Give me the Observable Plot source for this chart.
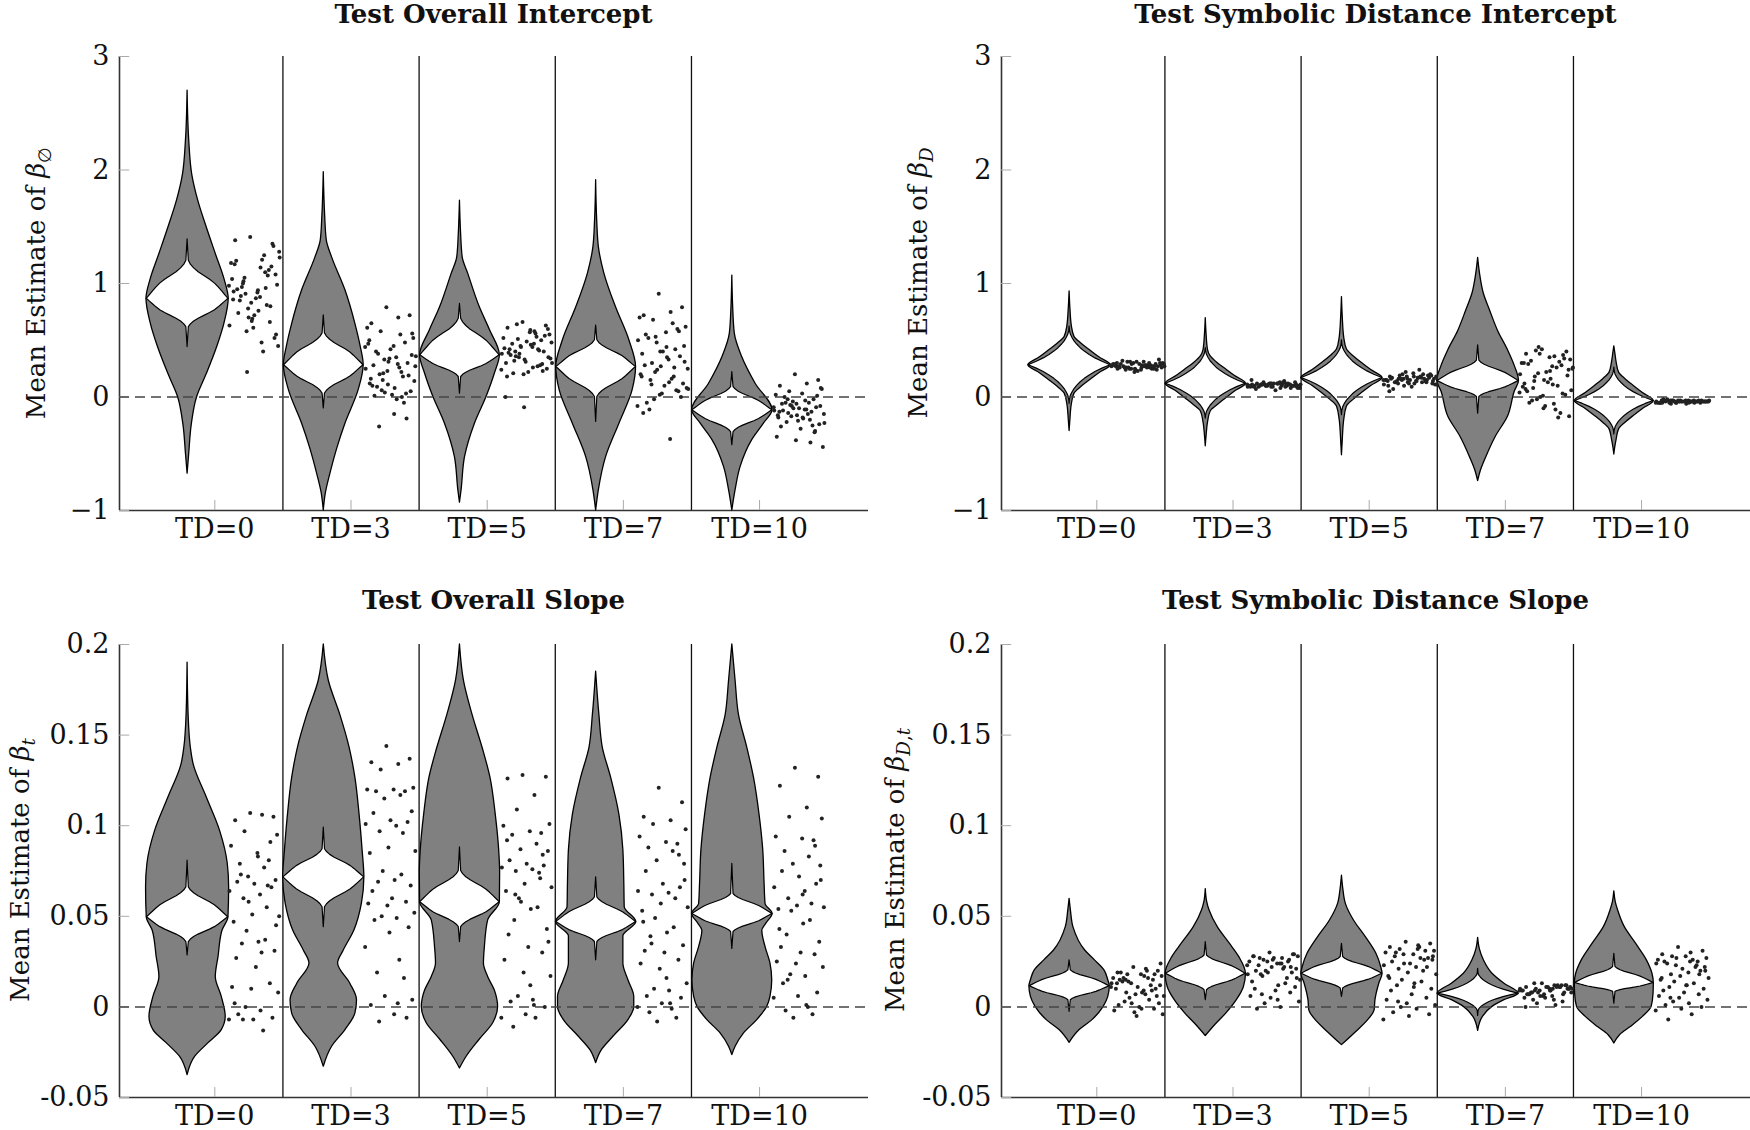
<!DOCTYPE html>
<html><head><meta charset="utf-8">
<script src="https://cdn.jsdelivr.net/npm/d3@7"></script>
<script src="https://cdn.jsdelivr.net/npm/@observablehq/plot@0.6"></script>
<style>
html,body{margin:0;padding:0;background:#fff;}
#root{position:relative;width:1750px;height:1130px;overflow:hidden;background:#fff;}
.panel{position:absolute;}
.panel svg{overflow:visible;max-width:none !important;}
.title{position:absolute;transform:translate(-50%,-50%);font:bold 26px "DejaVu Serif";white-space:nowrap;color:#111;}
.ylab{position:absolute;transform:translate(-50%,-50%) rotate(-90deg);font:26px "DejaVu Serif";white-space:nowrap;color:#111;}
.ylab sub{font-size:70%;}
</style></head><body><div id="root"></div>
<script>
// ---------- categories & ticks ----------
const tdLabels = ["TD=0", "TD=3", "TD=5", "TD=7", "TD=10"];
const groupPos = [1, 2, 3, 4, 5];
const separators = [1.5, 2.5, 3.5, 4.5];
const interceptTicks = [-1, 0, 1, 2, 3];
const interceptTickLabels = ["\u22121", "0", "1", "2", "3"];
const slopeTicks = [-0.05, 0, 0.05, 0.1, 0.15, 0.2];
const slopeTickLabels = ["-0.05", "0", "0.05", "0.1", "0.15", "0.2"];
const titles = ["Test Overall Intercept", "Test Symbolic Distance Intercept", "Test Overall Slope", "Test Symbolic Distance Slope"];
const yLabelText = "Mean Estimate of ";
const ySubscripts = ["\u2205", "D", "t", "D,t"];

// ---------- violin outlines: [y, half-width] ----------
const p1Outer = [
  [[2.70,0],[2.26,0.012],[1.96,0.034],[1.73,0.078],[1.50,0.139],[1.26,0.207],[1.03,0.273],[0.865,0.302],[0.645,0.27],[0.45,0.22],[0.2,0.14],[0,0.07],[-0.25,0.03],[-0.5,0.012],[-0.675,0]],
  [[1.98,0],[1.6,0.01],[1.38,0.022],[1.23,0.061],[0.94,0.159],[0.645,0.232],[0.45,0.27],[0.28,0.293],[0.06,0.256],[-0.235,0.159],[-0.45,0.1],[-0.675,0.049],[-0.85,0.015],[-1.0,0]],
  [[1.73,0],[1.45,0.008],[1.23,0.02],[1.085,0.061],[0.79,0.146],[0.59,0.22],[0.367,0.293],[0.205,0.256],[0,0.195],[-0.235,0.11],[-0.53,0.037],[-0.82,0.012],[-0.93,0]],
  [[1.91,0],[1.55,0.008],[1.32,0.02],[1.085,0.061],[0.79,0.146],[0.5,0.244],[0.264,0.293],[0.06,0.268],[-0.235,0.171],[-0.53,0.073],[-0.82,0.02],[-1.0,0]],
  [[1.07,0],[0.8,0.006],[0.56,0.018],[0.35,0.073],[0.117,0.171],[-0.117,0.295],[-0.235,0.232],[-0.38,0.146],[-0.616,0.061],[-0.82,0.024],[-1.0,0]]
];
const p2Outer = [
  [[0.93,0],[0.78,0.006],[0.62,0.017],[0.53,0.036],[0.47,0.088],[0.41,0.152],[0.35,0.218],[0.28,0.303],[0.21,0.218],[0.15,0.152],[0.09,0.088],[0.03,0.036],[-0.06,0.017],[-0.2,0.006],[-0.30,0]],
  [[0.695,0],[0.55,0.006],[0.41,0.017],[0.36,0.035],[0.30,0.086],[0.245,0.148],[0.187,0.212],[0.117,0.295],[0.047,0.212],[-0.013,0.148],[-0.073,0.086],[-0.13,0.035],[-0.22,0.017],[-0.34,0.006],[-0.434,0]],
  [[0.88,0],[0.70,0.006],[0.52,0.017],[0.42,0.036],[0.357,0.087],[0.297,0.149],[0.237,0.215],[0.167,0.298],[0.097,0.215],[0.037,0.149],[-0.023,0.087],[-0.085,0.036],[-0.2,0.017],[-0.38,0.006],[-0.513,0]],
  [[1.226,0],[1.085,0.014],[0.91,0.042],[0.76,0.088],[0.58,0.147],[0.41,0.22],[0.27,0.27],[0.141,0.3],[0.05,0.27],[-0.176,0.218],[-0.35,0.13],[-0.53,0.06],[-0.65,0.02],[-0.74,0]],
  [[0.446,0],[0.38,0.008],[0.305,0.017],[0.215,0.035],[0.155,0.084],[0.095,0.145],[0.035,0.21],[-0.035,0.29],[-0.105,0.21],[-0.165,0.145],[-0.225,0.084],[-0.285,0.035],[-0.375,0.017],[-0.45,0.006],[-0.507,0]]
];
const p3Outer = [
  [[0.19,0],[0.16,0.008],[0.143,0.024],[0.134,0.044],[0.1155,0.141],[0.097,0.239],[0.079,0.295],[0.066,0.305],[0.0495,0.30],[0.042,0.256],[0.0275,0.227],[0.0165,0.207],[0.0055,0.251],[-0.0055,0.28],[-0.0128,0.251],[-0.02,0.154],[-0.0275,0.056],[-0.0376,0]],
  [[0.2,0],[0.18,0.037],[0.161,0.122],[0.143,0.19],[0.1265,0.232],[0.106,0.263],[0.0865,0.285],[0.0715,0.298],[0.057,0.28],[0.042,0.224],[0.031,0.146],[0.024,0.105],[0.0128,0.195],[0.0037,0.244],[-0.0037,0.232],[-0.0128,0.159],[-0.022,0.061],[-0.033,0]],
  [[0.2,0],[0.18,0.029],[0.161,0.093],[0.143,0.166],[0.1265,0.224],[0.106,0.263],[0.0865,0.288],[0.074,0.295],[0.0578,0.293],[0.0477,0.207],[0.033,0.183],[0.024,0.176],[0.0165,0.207],[0.009,0.256],[0,0.28],[-0.009,0.244],[-0.018,0.146],[-0.0275,0.049],[-0.034,0]],
  [[0.185,0],[0.161,0.024],[0.143,0.049],[0.1265,0.11],[0.106,0.171],[0.0865,0.2],[0.0678,0.207],[0.055,0.21],[0.0468,0.295],[0.039,0.2],[0.024,0.2],[0.0147,0.237],[0.0055,0.28],[0,0.28],[-0.0073,0.237],[-0.0165,0.127],[-0.024,0.041],[-0.031,0]],
  [[0.2,0],[0.18,0.024],[0.161,0.049],[0.143,0.11],[0.1265,0.159],[0.106,0.2],[0.0865,0.227],[0.0678,0.237],[0.0568,0.244],[0.0513,0.296],[0.046,0.25],[0.042,0.22],[0.033,0.244],[0.024,0.28],[0.0147,0.293],[0.0055,0.28],[0,0.256],[-0.0073,0.183],[-0.0147,0.085],[-0.022,0.024],[-0.0266,0]]
];
const p4Outer = [
  [[0.0596,0],[0.053,0.01],[0.044,0.028],[0.031,0.116],[0.0257,0.186],[0.0202,0.256],[0.0147,0.284],[0.0114,0.295],[0.0055,0.284],[0,0.25],[-0.0073,0.168],[-0.0128,0.074],[-0.0198,0]],
  [[0.065,0],[0.058,0.01],[0.0532,0.028],[0.044,0.088],[0.035,0.175],[0.0275,0.246],[0.0183,0.295],[0.011,0.28],[0.0037,0.228],[-0.0037,0.15],[-0.01,0.07],[-0.0161,0]],
  [[0.0724,0],[0.065,0.01],[0.057,0.028],[0.0477,0.088],[0.0385,0.175],[0.0293,0.253],[0.022,0.288],[0.0183,0.298],[0.0128,0.274],[0.0037,0.246],[-0.0018,0.24],[-0.0073,0.193],[-0.0138,0.105],[-0.0211,0]],
  [[0.0381,0],[0.032,0.012],[0.0257,0.042],[0.0183,0.105],[0.0128,0.193],[0.0073,0.298],[0.0037,0.193],[0,0.105],[-0.0055,0.035],[-0.0132,0]],
  [[0.0638,0],[0.058,0.01],[0.0532,0.028],[0.044,0.077],[0.035,0.158],[0.0257,0.239],[0.0183,0.28],[0.0132,0.29],[0.0073,0.288],[0,0.274],[-0.0055,0.21],[-0.011,0.123],[-0.0156,0.042],[-0.0202,0]]
];

// ---------- inner (white) violins: [mode, top of body, top tip, bottom of body, bottom tip, profile] ----------
const p1Inner = [[0.865,1.20,1.39,0.615,0.44,0],[0.28,0.56,0.72,0.03,-0.10,0],[0.367,0.69,0.82,0.176,0.03,0],[0.264,0.50,0.63,0.0,-0.22,0],[-0.117,0.088,0.22,-0.31,-0.425,0]];
const p2Inner = [[0.28,0.58,0.62,-0.02,-0.06,1],[0.117,0.40,0.43,-0.16,-0.19,1],[0.167,0.46,0.50,-0.12,-0.16,1],[0.141,0.32,0.455,0.0,-0.147,0],[-0.035,0.225,0.26,-0.295,-0.33,1]];
const p3Inner = [[0.0495,0.066,0.0807,0.0358,0.0284,0],[0.0715,0.087,0.099,0.055,0.044,0],[0.0578,0.075,0.088,0.044,0.0358,0],[0.0468,0.0605,0.0715,0.0358,0.0257,0],[0.0513,0.0623,0.079,0.0413,0.032,0]];
const p4Inner = [[0.0114,0.0202,0.0257,0.0037,-0.0027,0],[0.0183,0.0284,0.0358,0.0092,0.0037,0],[0.0183,0.0275,0.0348,0.0101,0.0055,0],[0.0073,0.0183,0.021,-0.0022,-0.005,1],[0.0132,0.022,0.0293,0.0083,0.0018,0]];
// white-violin profiles (fraction along body -> fraction of width)
const innerF = [0,.1,.2,.3,.4,.5,.6,.7,.8,.9,1];
const innerProfiles = [
  [1,.92,.84,.76,.67,.55,.41,.27,.16,.08,.03],
  [1,.8,.63,.49,.37,.27,.19,.12,.07,.03,.01]
];

// ---------- individual estimates (dots) ----------
const jitter = [.42,.87,.13,.65,.31,.94,.05,.56,.78,.22,.69,.38,.91,.17,.50,.83,.02,.61,.29,.74,.46,.98,.10,.35,.71,.58,.26,.89,.15,.53,.80,.07,.44,.96,.33,.62,.19,.85,.48,.01,.67,.24,.76,.39,.92,.12,.57,.81,.28,.64,.09,.45,.99,.36,.72,.20,.54,.88,.04,.60];
const p1Dots = [
  [1.41,1.33,1.38,1.21,1.05,0.99,1.18,0.92,1.12,0.85,1.25,0.78,1.08,0.95,0.72,1.15,0.63,0.88,1.02,0.81,0.69,1.28,0.93,0.58,1.10,0.76,0.97,0.52,1.20,0.87,0.66,1.04,0.83,0.45,0.91,1.14,0.74,1.35,0.61,0.98,0.40,0.89,1.07,0.70,0.55,1.17,0.94,0.80,1.00,0.48,0.86,0.67,1.23,0.22,0.96],
  [0.79,0.72,0.65,0.70,0.58,0.52,0.61,0.45,0.48,0.40,0.55,0.33,0.37,0.28,0.42,0.30,0.25,0.35,0.20,0.18,0.31,0.27,0.12,0.15,0.22,0.08,0.38,0.05,0.10,0.02,0.03,0.47,0.23,0.14,0.06,-0.02,0.01,0.19,0.34,0.44,0.26,0.09,-0.05,0.04,0.56,0.16,-0.15,-0.19,-0.26,0.29,0.50,0.11,0.36,0.21,0.00],
  [0.66,0.63,0.61,0.58,0.64,0.55,0.52,0.57,0.50,0.47,0.53,0.45,0.60,0.42,0.49,0.40,0.38,0.44,0.36,0.41,0.33,0.48,0.30,0.35,0.27,0.46,0.32,0.25,0.39,0.22,0.29,0.43,0.20,0.34,0.51,0.26,0.37,0.54,0.31,0.24,0.56,0.21,0.28,0.44,0.35,0.18,0.59,0.23,0.40,0.47,0.00,-0.09,0.30,0.38,0.42],
  [0.91,0.79,0.72,0.75,0.68,0.62,0.70,0.57,0.60,0.52,0.65,0.48,0.45,0.55,0.40,0.36,0.50,0.33,0.30,0.42,0.27,0.25,0.38,0.22,0.18,0.35,0.15,0.12,0.28,0.10,0.05,0.20,0.02,0.08,-0.02,0.13,-0.05,0.00,0.03,-0.08,0.16,-0.11,0.06,0.24,0.31,-0.14,0.44,0.58,0.11,-0.37,0.18,0.40,0.07,0.53,0.26],
  [0.20,0.15,0.10,0.12,0.05,0.07,0.02,0.03,-0.02,0.00,-0.05,-0.04,-0.08,-0.06,-0.10,-0.09,-0.12,-0.11,-0.14,-0.13,-0.16,-0.15,-0.18,-0.17,-0.20,-0.19,-0.22,-0.24,-0.26,-0.28,-0.31,-0.35,-0.38,-0.44,-0.07,-0.03,-0.12,0.01,-0.21,-0.09,-0.15,-0.05,-0.25,-0.10,0.08,-0.13,-0.18,-0.30,-0.02,-0.11,-0.16,-0.06,-0.23,-0.08,-0.40]
];
const p2Dots = [
  [0.30,0.27,0.25,0.28,0.31,0.26,0.29,0.24,0.27,0.32,0.28,0.25,0.30,0.26,0.23,0.29,0.27,0.31,0.26,0.28,0.24,0.29,0.27,0.25,0.30,0.28,0.26,0.33,0.27,0.29,0.25,0.28,0.22,0.30,0.26,0.27,0.29,0.24,0.31,0.28,0.26,0.27,0.25,0.29,0.28,0.30,0.26,0.27,0.24,0.28,0.29,0.25,0.27,0.31,0.26],
  [0.12,0.10,0.09,0.11,0.13,0.08,0.10,0.12,0.11,0.09,0.14,0.10,0.11,0.07,0.12,0.10,0.09,0.13,0.11,0.10,0.12,0.08,0.11,0.10,0.09,0.12,0.11,0.13,0.10,0.06,0.11,0.09,0.12,0.10,0.11,0.08,0.12,0.10,0.09,0.11,0.13,0.10,0.12,0.11,0.09,0.10,0.12,0.08,0.11,0.10,0.15,0.09,0.11,0.10,0.12],
  [0.22,0.20,0.18,0.17,0.19,0.16,0.15,0.21,0.14,0.13,0.18,0.16,0.12,0.17,0.15,0.19,0.11,0.14,0.16,0.20,0.13,0.18,0.10,0.15,0.17,0.12,0.14,0.19,0.16,0.09,0.13,0.15,0.18,0.11,0.16,0.14,0.07,0.17,0.12,0.15,0.24,0.13,0.16,0.10,0.14,0.05,0.18,0.15,0.12,0.17,0.14,0.16,0.11,0.20,0.13],
  [0.42,0.40,0.38,0.36,0.41,0.33,0.30,0.35,0.28,0.32,0.26,0.38,0.24,0.29,0.22,0.34,0.20,0.27,0.18,0.31,0.15,0.25,0.12,0.21,0.10,0.16,0.08,0.19,0.05,0.13,0.03,0.09,0.01,0.06,-0.02,0.11,-0.05,0.02,-0.08,0.04,-0.11,-0.03,-0.14,0.00,-0.17,0.07,0.23,0.37,0.14,-0.06,0.30,-0.10,0.26,0.44,-0.18],
  [-0.03,-0.04,-0.05,-0.04,-0.03,-0.04,-0.05,-0.03,-0.04,-0.02,-0.04,-0.05,-0.04,-0.03,-0.04,-0.05,-0.04,-0.03,-0.06,-0.04,-0.03,-0.04,-0.05,-0.04,-0.03,-0.04,-0.05,-0.04,-0.02,-0.04,-0.03,-0.05,-0.04,-0.04,-0.03,-0.05,-0.04,-0.03,-0.04,-0.05,-0.04,-0.03,-0.04,-0.05,-0.04,-0.03,-0.06,-0.04,-0.03,-0.04,-0.05,-0.04,-0.03,-0.04,-0.05]
];
const p3Dots = [
  [0.107,0.105,0.103,0.106,0.097,0.095,0.089,0.085,0.081,0.079,0.077,0.072,0.070,0.069,0.068,0.066,0.064,0.062,0.060,0.055,0.051,0.050,0.047,0.042,0.037,0.036,0.035,0.031,0.027,0.022,0.013,0.011,0.010,0.008,0.000,-0.002,-0.004,-0.006,-0.007,-0.007,-0.013,0.073,0.067,0.058,0.045,0.002,0.083,0.091,-0.007,0.030],
  [0.144,0.137,0.135,0.134,0.131,0.121,0.120,0.120,0.119,0.119,0.117,0.115,0.108,0.107,0.103,0.102,0.101,0.100,0.097,0.096,0.088,0.086,0.085,0.075,0.073,0.070,0.069,0.067,0.064,0.060,0.058,0.057,0.056,0.052,0.050,0.049,0.048,0.044,0.041,0.033,0.026,0.019,0.016,0.006,0.004,0.001,-0.004,-0.006,-0.008,0.002],
  [0.128,0.127,0.126,0.117,0.109,0.101,0.100,0.097,0.096,0.095,0.090,0.087,0.086,0.081,0.079,0.078,0.077,0.076,0.075,0.074,0.068,0.066,0.064,0.060,0.055,0.054,0.048,0.043,0.040,0.033,0.030,0.026,0.019,0.017,0.006,0.004,0.003,0.000,-0.004,-0.006,-0.006,-0.011,0.071,0.058,0.036,0.092,0.012,0.084,0.062,0.001],
  [0.121,0.113,0.105,0.103,0.101,0.098,0.094,0.091,0.090,0.088,0.086,0.081,0.079,0.075,0.068,0.066,0.064,0.063,0.062,0.060,0.057,0.055,0.053,0.049,0.044,0.041,0.039,0.034,0.031,0.030,0.026,0.024,0.021,0.013,0.010,0.009,0.006,0.005,0.002,0.000,-0.001,-0.003,-0.006,-0.008,0.070,0.047,0.016,0.084,0.035,0.002],
  [0.132,0.127,0.122,0.110,0.105,0.104,0.094,0.093,0.092,0.086,0.083,0.079,0.078,0.075,0.072,0.068,0.066,0.064,0.060,0.057,0.056,0.055,0.054,0.053,0.048,0.046,0.040,0.036,0.033,0.030,0.029,0.025,0.024,0.022,0.018,0.017,0.013,0.008,0.006,0.005,0.000,-0.002,-0.004,-0.006,0.070,0.043,0.062,0.089,0.015,0.001]
];
const p4Dots = [
  [0.022,0.020,0.019,0.021,0.018,0.017,0.016,0.018,0.015,0.014,0.016,0.013,0.012,0.015,0.011,0.010,0.013,0.009,0.008,0.012,0.007,0.006,0.010,0.005,0.004,0.008,0.003,0.002,0.001,0.000,-0.001,-0.002,-0.003,-0.004,0.014,0.017,0.019,0.006,-0.005,0.011,0.020,0.016,0.009,0.002,0.024,0.013,-0.001,0.018,0.015,0.007],
  [0.030,0.029,0.028,0.027,0.026,0.028,0.025,0.024,0.026,0.023,0.022,0.025,0.021,0.020,0.027,0.019,0.018,0.024,0.017,0.016,0.022,0.015,0.014,0.020,0.013,0.012,0.018,0.011,0.010,0.009,0.008,0.006,0.005,0.003,0.002,0.000,-0.001,0.029,0.026,0.023,0.021,0.027,0.025,0.019,0.016,0.028,0.004,0.022,0.007,0.024],
  [0.036,0.035,0.033,0.034,0.032,0.031,0.030,0.029,0.031,0.028,0.027,0.029,0.026,0.025,0.024,0.027,0.023,0.022,0.021,0.020,0.019,0.018,0.017,0.015,0.014,0.013,0.012,0.010,0.009,0.007,0.005,0.004,0.002,0.001,0.000,-0.001,-0.003,-0.004,-0.005,-0.007,0.033,0.030,0.026,0.024,0.028,0.016,0.011,0.022,0.003,0.032],
  [0.013,0.012,0.011,0.012,0.010,0.011,0.009,0.010,0.012,0.008,0.011,0.009,0.010,0.007,0.011,0.008,0.010,0.006,0.009,0.011,0.007,0.010,0.005,0.008,0.012,0.009,0.004,0.010,0.007,0.011,0.003,0.009,0.006,0.008,0.002,0.010,0.007,0.012,0.005,0.009,0.001,0.008,0.011,0.006,0.010,0.000,0.009,0.007,0.013,0.004],
  [0.033,0.031,0.029,0.030,0.028,0.027,0.026,0.028,0.025,0.024,0.026,0.023,0.022,0.025,0.021,0.020,0.024,0.019,0.018,0.022,0.017,0.016,0.015,0.014,0.013,0.012,0.011,0.010,0.009,0.008,0.007,0.006,0.005,0.004,0.003,0.002,0.001,0.000,-0.001,-0.002,-0.004,-0.007,0.023,0.027,0.020,0.016,0.012,0.018,0.005,0.025]
];

// ---------- layout ----------
const X_DOMAIN = [0.3, 5.8];
const VIOLIN_SHIFT = -0.2;
const FONT = "DejaVu Serif";

const panels = [
  {box:[0,0,880,560], m:[56,12,50,119], yDomain:[-1,3], ticks:interceptTicks, tickLabels:interceptTickLabels, outer:p1Outer, inner:p1Inner, dots:p1Dots, dotSpan:[0.1,0.48], title:[493.5,14], ylab:[38,283]},
  {box:[882,0,868,560], m:[56,0,50,119], yDomain:[-1,3], ticks:interceptTicks, tickLabels:interceptTickLabels, outer:p2Outer, inner:p2Inner, dots:p2Dots, dotSpan:[0.1,0.5], title:[1375.5,14], ylab:[920,283]},
  {box:[0,588,880,542], m:[56,12,33,119], yDomain:[-0.05,0.2], ticks:slopeTicks, tickLabels:slopeTickLabels, outer:p3Outer, inner:p3Inner, dots:p3Dots, dotSpan:[0.1,0.48], title:[493.5,600], ylab:[22,870]},
  {box:[882,588,868,542], m:[56,0,33,119], yDomain:[-0.05,0.2], ticks:slopeTicks, tickLabels:slopeTickLabels, outer:p4Outer, inner:p4Inner, dots:p4Dots, dotSpan:[0.1,0.5], title:[1375.5,600], ylab:[897,870]}
];

function nearestHW(knots, y) {
  let best = knots[0];
  for (const k of knots) if (Math.abs(k[0]-y) < Math.abs(best[0]-y)) best = k;
  return best[1];
}

const root = document.getElementById("root");
panels.forEach((p, pi) => {
  const [left, top, width, height] = p.box;
  const [mt, mr, mb, ml] = p.m;
  const marks = [];
  marks.push(Plot.ruleX(separators, {stroke:"#111", strokeWidth:1.3}));
  marks.push(Plot.ruleX([X_DOMAIN[0]], {stroke:"#333", strokeWidth:1.6}));
  marks.push(Plot.ruleY([p.yDomain[0]], {stroke:"#333", strokeWidth:1.6}));
  const ySpan = p.yDomain[1]-p.yDomain[0];
  marks.push(Plot.ruleY(p.ticks, {x1:X_DOMAIN[0], x2:X_DOMAIN[0]+0.075, stroke:"#aaa", strokeWidth:1}));
  marks.push(Plot.ruleX(groupPos, {y1:p.yDomain[0], y2:p.yDomain[0]+ySpan*0.022, stroke:"#aaa", strokeWidth:1}));
  p.outer.forEach((knots, i) => {
    const c = groupPos[i] + VIOLIN_SHIFT;
    const rows = knots.map(([y, hw]) => ({y, x1:c-hw, x2:c+hw})).sort((a,b)=>a.y-b.y);
    marks.push(Plot.areaX(rows, {y:"y", x1:"x1", x2:"x2", curve:"monotone-y", fill:"#808080", stroke:"#000", strokeWidth:1.3}));
    const [m, tb, tt, bb, bt, prof] = p.inner[i];
    const R = innerProfiles[prof || 0];
    const W = nearestHW(knots, m) * 0.995;
    const ir = [{y:tt, hw:0}];
    for (let k = innerF.length-1; k >= 0; k--) ir.push({y:m+innerF[k]*(tb-m), hw:R[k]*W});
    for (let k = 1; k < innerF.length; k++) ir.push({y:m+innerF[k]*(bb-m), hw:R[k]*W});
    ir.push({y:bt, hw:0});
    const irows = ir.map(r => ({y:r.y, x1:c-r.hw, x2:c+r.hw}));
    marks.push(Plot.areaX(irows, {y:"y", x1:"x1", x2:"x2", curve:"linear", fill:"#fff", stroke:"#000", strokeWidth:1.2}));
  });
  marks.push(Plot.ruleY([0], {stroke:"#444", strokeWidth:1.5, strokeDasharray:"10,6"}));
  const dotRows = [];
  p.dots.forEach((vals, i) => {
    vals.forEach((v, k) => dotRows.push({x: groupPos[i] + p.dotSpan[0] + jitter[k % jitter.length]*(p.dotSpan[1]-p.dotSpan[0]), y: v}));
  });
  marks.push(Plot.dot(dotRows, {x:"x", y:"y", r:2, fill:"#222", stroke:"none"}));

  const svg = Plot.plot({
    width, height, marginTop:mt, marginRight:mr, marginBottom:mb, marginLeft:ml,
    style:{fontFamily:FONT, fontSize:"27px", color:"#111", background:"transparent", overflow:"visible"},
    x:{domain:X_DOMAIN, ticks:groupPos, tickFormat:d => tdLabels[groupPos.indexOf(d)], tickSize:0, tickPadding:8, label:null},
    y:{domain:p.yDomain, ticks:p.ticks, tickFormat:d => p.tickLabels[p.ticks.indexOf(d)], tickSize:0, tickPadding:10, label:null},
    marks
  });
  const holder = document.createElement("div");
  holder.className = "panel";
  holder.style.left = left + "px"; holder.style.top = top + "px";
  holder.style.width = width + "px"; holder.style.height = height + "px";
  holder.appendChild(svg);
  root.appendChild(holder);

  const t = document.createElement("div");
  t.className = "title";
  t.style.left = p.title[0] + "px"; t.style.top = p.title[1] + "px";
  t.textContent = titles[pi];
  root.appendChild(t);

  const yl = document.createElement("div");
  yl.className = "ylab";
  yl.style.left = p.ylab[0] + "px"; yl.style.top = p.ylab[1] + "px";
  yl.appendChild(document.createTextNode(yLabelText));
  const b = document.createElement("i"); b.textContent = "\u03b2"; yl.appendChild(b);
  const sub = document.createElement("sub");
  ySubscripts[pi].split(",").forEach((s, j) => {
    if (j > 0) sub.appendChild(document.createTextNode(","));
    const e = document.createElement(s === "\u2205" ? "span" : "i"); e.textContent = s; sub.appendChild(e);
  });
  yl.appendChild(sub);
  root.appendChild(yl);
});
</script></body></html>
